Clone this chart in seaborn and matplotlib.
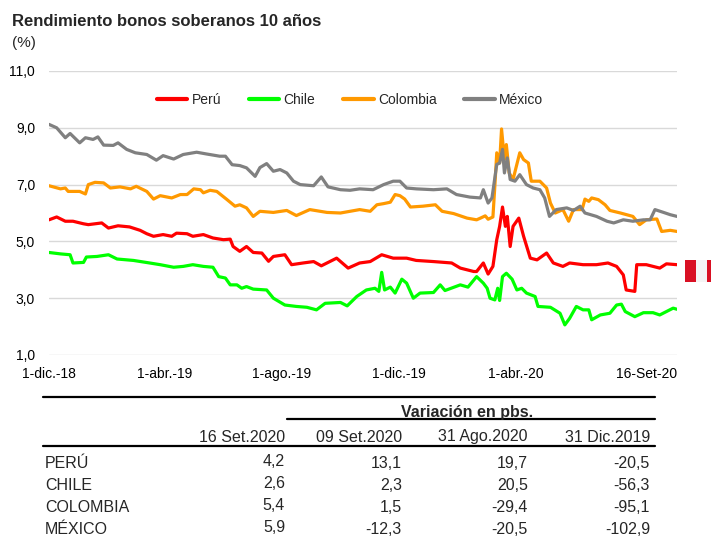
import matplotlib.pyplot as plt
import matplotlib.ticker as mtick
import numpy as np
import pandas as pd
import seaborn as sns
from matplotlib.lines import Line2D
from matplotlib.patches import Rectangle

START = pd.Timestamp("2018-12-01")

# readings: days since 1-dic.-18, yield in %
peru_day = [0, 8, 17, 25, 36, 41, 48, 55, 62, 72, 84, 95, 102, 109, 119, 128, 133, 144,
            150, 161, 171, 182, 189, 192, 199, 206, 213, 222, 229, 234, 246, 253, 265,
            276, 284, 300, 312, 324, 335, 347, 359, 373, 383, 401, 420, 429, 443, 446,
            453, 458, 463, 467, 470, 473, 476, 478, 481, 484, 490, 495, 502, 509, 519,
            526, 536, 543, 557, 571, 583, 592, 599, 602, 611, 613, 623, 637, 644, 655]
peru_val = [5.76, 5.86, 5.71, 5.71, 5.62, 5.59, 5.62, 5.65, 5.47, 5.55, 5.51, 5.39, 5.27,
            5.18, 5.24, 5.18, 5.29, 5.27, 5.18, 5.24, 5.12, 5.06, 5.08, 4.82, 4.65, 4.82,
            4.61, 4.59, 4.30, 4.47, 4.53, 4.18, 4.24, 4.29, 4.14, 4.41, 4.06, 4.24, 4.29,
            4.53, 4.41, 4.41, 4.33, 4.29, 4.24, 4.06, 3.94, 3.94, 4.24, 3.85, 4.12, 5.06,
            5.53, 6.21, 5.53, 5.88, 4.82, 5.53, 5.82, 5.18, 4.41, 4.35, 4.59, 4.24, 4.12,
            4.24, 4.18, 4.18, 4.24, 4.12, 3.82, 3.29, 3.24, 4.18, 4.18, 4.06, 4.21, 4.18]

chile_day = [0, 12, 22, 25, 36, 39, 50, 62, 71, 88, 105, 116, 130, 140, 150, 161, 171,
             177, 184, 189, 196, 201, 206, 213, 227, 234, 246, 258, 269, 279, 288, 304,
             311, 321, 331, 340, 344, 347, 350, 356, 361, 368, 373, 380, 387, 401, 408,
             413, 429, 437, 446, 453, 457, 460, 465, 468, 470, 473, 477, 483, 488, 493,
             498, 507, 510, 523, 533, 538, 543, 550, 557, 563, 566, 575, 585, 592, 597,
             601, 611, 620, 630, 637, 644, 651, 655]
chile_val = [4.61, 4.56, 4.53, 4.24, 4.26, 4.45, 4.47, 4.53, 4.38, 4.33, 4.24, 4.18, 4.09,
             4.12, 4.18, 4.12, 4.09, 3.76, 3.71, 3.47, 3.47, 3.35, 3.41, 3.32, 3.29, 3.00,
             2.76, 2.71, 2.68, 2.59, 2.82, 2.85, 2.73, 3.06, 3.29, 3.35, 3.24, 3.91, 3.29,
             3.39, 3.18, 3.67, 3.53, 3.00, 3.18, 3.20, 3.47, 3.27, 3.47, 3.39, 3.76, 3.53,
             3.35, 3.00, 2.94, 3.35, 2.92, 3.76, 3.88, 3.67, 3.29, 3.35, 3.18, 3.06, 2.71,
             2.68, 2.47, 2.06, 2.29, 2.71, 2.59, 2.59, 2.24, 2.41, 2.47, 2.76, 2.79, 2.53,
             2.35, 2.49, 2.49, 2.41, 2.53, 2.65, 2.61]

colombia_day = [0, 12, 17, 20, 32, 38, 41, 48, 57, 64, 74, 85, 91, 102, 109, 116, 128, 137,
                144, 151, 158, 161, 168, 175, 185, 194, 199, 206, 213, 220, 234, 248, 258,
                272, 290, 304, 314, 324, 335, 342, 349, 356, 361, 366, 371, 377, 390, 403,
                410, 422, 436, 446, 450, 455, 458, 463, 465, 467, 470, 472, 475, 477, 480,
                484, 491, 495, 500, 503, 512, 519, 523, 528, 536, 542, 547, 556, 559, 563,
                566, 573, 580, 585, 596, 609, 616, 623, 634, 639, 648, 655]
colombia_val = [6.96, 6.85, 6.88, 6.76, 6.76, 6.67, 7.00, 7.08, 7.06, 6.88, 6.92, 6.85,
                6.94, 6.76, 6.49, 6.61, 6.53, 6.65, 6.65, 6.85, 6.82, 6.71, 6.80, 6.76,
                6.49, 6.24, 6.29, 6.18, 5.88, 6.06, 6.02, 6.09, 5.91, 6.12, 6.02, 6.00,
                6.06, 6.12, 6.06, 6.29, 6.33, 6.38, 6.65, 6.61, 6.49, 6.21, 6.24, 6.29,
                6.06, 5.98, 5.82, 5.76, 5.82, 5.90, 5.78, 5.86, 6.94, 8.12, 7.76, 8.96,
                7.88, 8.41, 7.41, 7.18, 8.12, 7.88, 7.76, 7.12, 7.12, 6.88, 6.35, 6.00,
                6.12, 5.71, 6.12, 6.12, 6.49, 6.41, 6.53, 6.47, 6.29, 6.09, 6.00, 5.88,
                5.59, 5.76, 5.79, 5.35, 5.39, 5.35]

mexico_day = [0, 8, 17, 22, 32, 38, 46, 51, 57, 67, 72, 81, 90, 102, 112, 119, 130, 140,
              154, 164, 178, 184, 191, 199, 206, 215, 220, 227, 234, 241, 248, 255, 262,
              276, 284, 291, 304, 314, 324, 338, 349, 359, 366, 373, 383, 401, 415, 425,
              439, 450, 453, 458, 462, 467, 470, 473, 475, 478, 481, 486, 491, 498, 505,
              512, 517, 522, 529, 540, 547, 554, 559, 571, 582, 589, 599, 609, 620, 627,
              632, 641, 648, 655]
mexico_val = [9.12, 9.00, 8.65, 8.80, 8.47, 8.65, 8.59, 8.68, 8.39, 8.38, 8.47, 8.24, 8.12,
              8.06, 7.86, 8.02, 7.90, 8.06, 8.14, 8.08, 8.00, 8.00, 7.70, 7.67, 7.59, 7.29,
              7.60, 7.74, 7.47, 7.53, 7.41, 7.12, 7.00, 6.96, 7.27, 6.92, 6.82, 6.80, 6.85,
              6.82, 7.00, 7.12, 7.12, 6.88, 6.85, 6.82, 6.85, 6.65, 6.56, 6.53, 6.82, 6.35,
              6.53, 7.71, 7.76, 8.24, 7.41, 7.94, 7.18, 7.12, 7.35, 7.00, 6.88, 6.82, 6.53,
              5.88, 6.12, 6.18, 6.09, 6.24, 6.00, 5.88, 5.71, 5.65, 5.76, 5.71, 5.76, 5.76,
              6.12, 6.02, 5.94, 5.88]

paises = ["Perú", "Chile", "Colombia", "México"]
colores = ["#FF0000", "#00FF00", "#FF9900", "#808080"]

tick_dates = ["2018-12-01", "2019-04-01", "2019-08-01", "2019-12-01", "2020-04-01", "2020-09-16"]
tick_labels = ["1-dic.-18", "1-abr.-19", "1-ago.-19", "1-dic.-19", "1-abr.-20", "16-Set-20"]

filas = ["PERÚ", "CHILE", "COLOMBIA", "MÉXICO"]
encabezados = ["16 Set.2020", "09 Set.2020", "31 Ago.2020", "31 Dic.2019"]
nivel_16set = [4.2, 2.6, 5.4, 5.9]
var_09set = [13.1, 2.3, 1.5, -12.3]
var_31ago = [19.7, 20.5, -29.4, -20.5]
var_31dic = [-20.5, -56.3, -95.1, -102.9]

# %%
frames = []
for pais, d, v in zip(paises,
                      [peru_day, chile_day, colombia_day, mexico_day],
                      [peru_val, chile_val, colombia_val, mexico_val]):
    frames.append(pd.DataFrame({"fecha": START + pd.to_timedelta(d, unit="D"),
                                "valor": v, "pais": pais}))
df = pd.concat(frames, ignore_index=True)

sns.set_style("white")
plt.rcParams["font.family"] = ["Liberation Sans", "DejaVu Sans"]
plt.rcParams["font.size"] = 10

W, H = 711, 536
fig = plt.figure(figsize=(W / 100, H / 100), dpi=100)
ax = fig.add_axes([49 / W, 1 - 355 / H, (677 - 49) / W, (355 - 71) / H])

sns.lineplot(data=df, x="fecha", y="valor", hue="pais", hue_order=paises,
             palette=colores, linewidth=2.3, ax=ax)

ax.set(xlim=(START, pd.Timestamp("2020-09-16")), ylim=(1, 11), xlabel="", ylabel="")
ax.set_yticks([1, 3, 5, 7, 9, 11])
ax.yaxis.set_major_formatter(mtick.FuncFormatter(lambda v, p: f"{v:.1f}".replace(".", ",")))
ax.yaxis.grid(True, color="#D9D9D9", linewidth=1)
ax.xaxis.grid(False)
ax.set_xticks(pd.to_datetime(tick_dates))
ax.set_xticklabels(tick_labels)
for lab in ax.get_xticklabels():
    lab.set_verticalalignment("baseline")
ax.get_xticklabels()[-1].set_horizontalalignment("right")
ax.tick_params(axis="both", length=0, labelsize=10, colors="#000000")
ax.tick_params(axis="x", pad=16.5)
ax.tick_params(axis="y", pad=10)
sns.despine(ax=ax, left=True, bottom=True)

handles, labels = ax.get_legend_handles_labels()
for h in handles:
    h.set_linewidth(3)
ax.legend(handles, labels, loc="center", bbox_to_anchor=(350 / W, 1 - 100 / H),
          bbox_transform=fig.transFigure, ncol=4, frameon=False, fontsize=10,
          handlelength=2.2, columnspacing=2.0, handletextpad=0.3)

fig.text(12 / W, 1 - 22 / H, "Rendimiento bonos soberanos 10 años", fontsize=12,
         fontweight="bold", va="center", ha="left")
fig.text(12 / W, 1 - 43 / H, "(%)", fontsize=11, va="center", ha="left")

# bandera Perú (recortada)
for x0, x1, c in [(685, 696, "#D91023"), (696, 707, "#F4F4F4"), (707, 718, "#D91023")]:
    fig.add_artist(Rectangle((x0 / W, 1 - 282 / H), (x1 - x0) / W, 22 / H,
                             transform=fig.transFigure, color=c, lw=0))

# tabla
def fmt(v):
    return f"{v:.1f}".replace(".", ",")

for y, x0 in [(397, 43), (419, 287), (446, 43)]:
    fig.add_artist(Line2D([x0 / W, 655 / W], [1 - y / H, 1 - y / H],
                          transform=fig.transFigure, color="black", lw=1.6))

fig.text(467 / W, 1 - 412 / H, "Variación en pbs.", fontsize=11.5, fontweight="bold",
         ha="center", va="center")
col_right = [285, 402, 528, 650]
for xr, enc in zip(col_right, encabezados):
    fig.text(xr / W, 1 - 437 / H, enc, fontsize=11.5, ha="right", va="center")

row_y = [463, 485, 507, 529]
columnas = [nivel_16set, var_09set, var_31ago, var_31dic]
for i, (yr, fila) in enumerate(zip(row_y, filas)):
    fig.text(45 / W, 1 - yr / H, fila, fontsize=11.5, ha="left", va="center")
    for j, (xr, col) in enumerate(zip(col_right, columnas)):
        dy = -2 if j == 0 else 0
        fig.text(xr / W, 1 - (yr + dy) / H, fmt(col[i]), fontsize=11.5, ha="right",
                 va="center")

plt.savefig("out.png", dpi=100, facecolor="white")
